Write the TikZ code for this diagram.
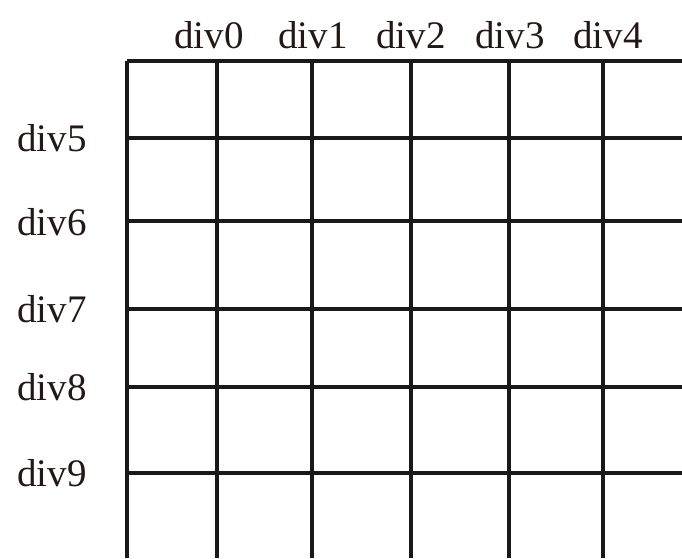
\documentclass[tikz,border=0pt]{standalone}
\usepackage{fontspec}
\setmainfont{Liberation Serif}

\definecolor{labelbrown}{RGB}{35,24,21}

\newcommand*{\gridleft}{127}
\newcommand*{\gridright}{682}
\newcommand*{\gridtop}{61}
\newcommand*{\gridbottom}{558}

\begin{document}
\begin{tikzpicture}
[
	x=1pt, y=-1pt,
	gridline/.style={line width=3.4pt,draw=black!90},
	divlabel/.style={anchor=base,inner sep=0pt,text=labelbrown,font=\fontsize{39}{41}\selectfont}
]

	\useasboundingbox (0,0) rectangle (682,558);

	% column labels
	\node[divlabel] (div0) at (209,48) {div0};
	\node[divlabel] (div1) at (313,48) {div1};
	\node[divlabel] (div2) at (411,48) {div2};
	\node[divlabel] (div3) at (510,48) {div3};
	\node[divlabel] (div4) at (608,48) {div4};

	% row labels
	\node[divlabel] (div5) at (52,151) {div5};
	\node[divlabel] (div6) at (52,235) {div6};
	\node[divlabel] (div7) at (52,322) {div7};
	\node[divlabel] (div8) at (52,400) {div8};
	\node[divlabel] (div9) at (52,486) {div9};

	% frame
	\draw[gridline] (\gridleft,\gridtop) -- (\gridright,\gridtop);
	\draw[gridline] (\gridleft,\gridtop) -- (\gridleft,\gridbottom);

	% columns
	\draw[gridline] (217,\gridtop) -- (217,\gridbottom);
	\draw[gridline] (312,\gridtop) -- (312,\gridbottom);
	\draw[gridline] (411,\gridtop) -- (411,\gridbottom);
	\draw[gridline] (509,\gridtop) -- (509,\gridbottom);
	\draw[gridline] (603,\gridtop) -- (603,\gridbottom);

	% rows
	\draw[gridline] (\gridleft,138) -- (\gridright,138);
	\draw[gridline] (\gridleft,221) -- (\gridright,221);
	\draw[gridline] (\gridleft,309) -- (\gridright,309);
	\draw[gridline] (\gridleft,387) -- (\gridright,387);
	\draw[gridline] (\gridleft,473) -- (\gridright,473);

\end{tikzpicture}
\end{document}
